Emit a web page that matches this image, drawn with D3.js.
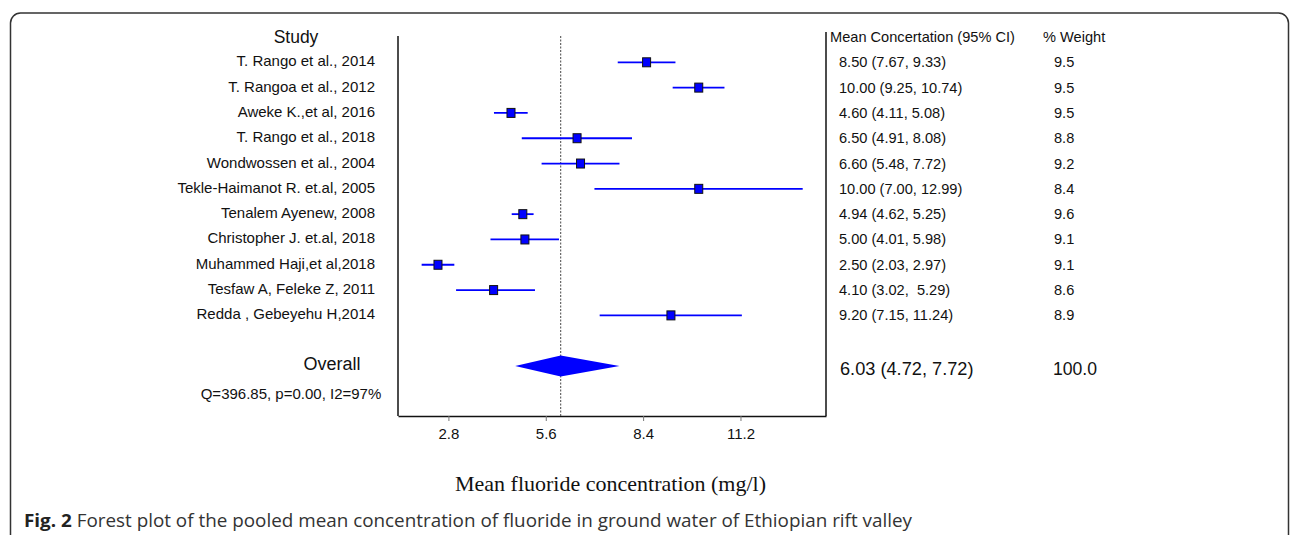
<!DOCTYPE html>
<html>
<head>
<meta charset="utf-8">
<script src="https://cdn.jsdelivr.net/npm/d3@7"></script>
<style>
  html, body { margin: 0; padding: 0; background: #fff; }
  #chart { width: 1290px; height: 535px; }
</style>
</head>
<body>
<div id="chart"></div>
<script>
// studies, top to bottom
const studies = [
  "T. Rango et al., 2014",
  "T. Rangoa et al., 2012",
  "Aweke K.,et al, 2016",
  "T. Rango et al., 2018",
  "Wondwossen et al., 2004",
  "Tekle-Haimanot R. et.al, 2005",
  "Tenalem Ayenew, 2008",
  "Christopher J. et.al, 2018",
  "Muhammed Haji,et al,2018",
  "Tesfaw A, Feleke Z, 2011",
  "Redda , Gebeyehu H,2014"
];
const means = [8.50, 10.00, 4.60, 6.50, 6.60, 10.00, 4.94, 5.00, 2.50, 4.10, 9.20];
const lower = [7.67, 9.25, 4.11, 4.91, 5.48, 7.00, 4.62, 4.01, 2.03, 3.02, 7.15];
const upper = [9.33, 10.74, 5.08, 8.08, 7.72, 12.99, 5.25, 5.98, 2.97, 5.29, 11.24];
const ciLabels = [
  "8.50 (7.67, 9.33)",
  "10.00 (9.25, 10.74)",
  "4.60 (4.11, 5.08)",
  "6.50 (4.91, 8.08)",
  "6.60 (5.48, 7.72)",
  "10.00 (7.00, 12.99)",
  "4.94 (4.62, 5.25)",
  "5.00 (4.01, 5.98)",
  "2.50 (2.03, 2.97)",
  "4.10 (3.02,  5.29)",
  "9.20 (7.15, 11.24)"
];
const weights = ["9.5", "9.5", "9.5", "8.8", "9.2", "8.4", "9.6", "9.1", "9.1", "8.6", "8.9"];

// pooled estimate
const pooled = [6.03, 4.72, 7.72]; // mean, lower, upper
const pooledLabel = "6.03 (4.72, 7.72)";
const pooledWeight = "100.0";
const heterogeneity = "Q=396.85, p=0.00, I2=97%";

const tickValues = [2.8, 5.6, 8.4, 11.2];
const xDomain = [1.35, 13.66];

const sans = "'Liberation Sans', Arial, sans-serif";
const azul = "#0000ff";
const fs = 15;

const width = 1290, height = 535;
const plot = { left: 398, right: 826, top: 36, bottom: 416 };

const svg = d3.select("#chart").append("svg")
  .attr("width", width)
  .attr("height", height)
  .style("display", "block");

// marco exterior
svg.append("rect")
  .attr("x", 10.5).attr("y", 13)
  .attr("width", 1278).attr("height", 600)
  .attr("rx", 10)
  .attr("fill", "none")
  .attr("stroke", "#333")
  .attr("stroke-width", 1.5);

const x = d3.scaleLinear().domain(xDomain).range([plot.left, plot.right]);
// filas: 0..10 estudios, 12 = overall
const y = d3.scaleLinear().domain([0, 12]).range([62.3, 366]);

// eje inferior
const axis = svg.append("g")
  .attr("transform", `translate(0,${plot.bottom})`)
  .call(d3.axisBottom(x).tickValues(tickValues).tickSize(5).tickSizeOuter(0).tickFormat(d3.format(".1f")));
axis.select(".domain").attr("stroke", "#111").attr("stroke-width", 1.5);
axis.selectAll(".tick line").attr("stroke", "#777");
axis.selectAll(".tick text")
  .attr("font-family", sans)
  .attr("font-size", fs)
  .attr("fill", "#111")
  .attr("dy", "1.0em");

// lados del recuadro
svg.append("line")
  .attr("x1", x(xDomain[0])).attr("x2", x(xDomain[0]))
  .attr("y1", plot.top).attr("y2", plot.bottom)
  .attr("stroke", "#111").attr("stroke-width", 1.5);
svg.append("line")
  .attr("x1", x(xDomain[1])).attr("x2", x(xDomain[1]))
  .attr("y1", plot.top - 4).attr("y2", plot.bottom)
  .attr("stroke", "#111").attr("stroke-width", 1.5);

// linea del efecto combinado
svg.append("line")
  .attr("x1", x(pooled[0])).attr("x2", x(pooled[0]))
  .attr("y1", plot.top).attr("y2", plot.bottom)
  .attr("stroke", "#444")
  .attr("stroke-width", 1)
  .attr("stroke-dasharray", "2,1.5");

const rows = studies.map((s, i) => ({
  study: s, mean: means[i], lo: lower[i], hi: upper[i],
  ci: ciLabels[i], w: weights[i], i
}));

// intervalos
svg.selectAll("line.ci")
  .data(rows)
  .join("line")
  .attr("class", "ci")
  .attr("x1", d => x(d.lo))
  .attr("x2", d => x(d.hi))
  .attr("y1", d => y(d.i))
  .attr("y2", d => y(d.i))
  .attr("stroke", azul)
  .attr("stroke-width", 1.8);

// cuadrados
svg.selectAll("rect.pt")
  .data(rows)
  .join("rect")
  .attr("class", "pt")
  .attr("x", d => x(d.mean) - 4)
  .attr("y", d => y(d.i) - 4.5)
  .attr("width", 8)
  .attr("height", 9)
  .attr("fill", azul)
  .attr("stroke", "#111")
  .attr("stroke-width", 1);

// rombo
const yd = y(12);
svg.append("path")
  .attr("d", `M${x(pooled[1])},${yd} L${x(pooled[0])},${yd - 10.5} L${x(pooled[2])},${yd} L${x(pooled[0])},${yd + 10.5} Z`)
  .attr("fill", azul);

// textos de la izquierda
svg.append("text")
  .attr("x", 296).attr("y", 37)
  .attr("text-anchor", "middle")
  .attr("dominant-baseline", "central")
  .attr("font-family", sans).attr("font-size", 17.5).attr("fill", "#111")
  .text("Study");

svg.selectAll("text.study")
  .data(rows)
  .join("text")
  .attr("class", "study")
  .attr("x", 375)
  .attr("y", d => y(d.i) - 1.5)
  .attr("text-anchor", "end")
  .attr("dominant-baseline", "central")
  .attr("font-family", sans).attr("font-size", fs).attr("fill", "#111")
  .text(d => d.study);

svg.append("text")
  .attr("x", 332).attr("y", 363.5)
  .attr("text-anchor", "middle")
  .attr("dominant-baseline", "central")
  .attr("font-family", sans).attr("font-size", 18).attr("fill", "#111")
  .text("Overall");

svg.append("text")
  .attr("x", 291).attr("y", 393)
  .attr("text-anchor", "middle")
  .attr("dominant-baseline", "central")
  .attr("font-family", sans).attr("font-size", fs).attr("fill", "#111")
  .text(heterogeneity);

// columnas de la derecha
svg.append("text")
  .attr("x", 830).attr("y", 37)
  .attr("dominant-baseline", "central")
  .attr("font-family", sans).attr("font-size", 14.6).attr("fill", "#111")
  .text("Mean Concertation (95% CI)");
svg.append("text")
  .attr("x", 1043).attr("y", 37)
  .attr("dominant-baseline", "central")
  .attr("font-family", sans).attr("font-size", 14.6).attr("fill", "#111")
  .text("% Weight");

svg.selectAll("text.ci")
  .data(rows)
  .join("text")
  .attr("class", "ci")
  .attr("x", 839)
  .attr("y", d => y(d.i))
  .attr("dominant-baseline", "central")
  .style("white-space", "pre")
  .attr("font-family", sans).attr("font-size", 14.6).attr("fill", "#111")
  .text(d => d.ci);

svg.selectAll("text.w")
  .data(rows)
  .join("text")
  .attr("class", "w")
  .attr("x", 1054)
  .attr("y", d => y(d.i))
  .attr("dominant-baseline", "central")
  .attr("font-family", sans).attr("font-size", 14.6).attr("fill", "#111")
  .text(d => d.w);

svg.append("text")
  .attr("x", 840).attr("y", 369)
  .attr("dominant-baseline", "central")
  .attr("font-family", sans).attr("font-size", 18.2).attr("fill", "#111")
  .text(pooledLabel);
svg.append("text")
  .attr("x", 1053).attr("y", 369)
  .attr("dominant-baseline", "central")
  .attr("font-family", sans).attr("font-size", 17.6).attr("fill", "#111")
  .text(pooledWeight);

// titulo del eje
svg.append("text")
  .attr("x", 455).attr("y", 491)
  .attr("font-family", "'Liberation Serif', 'Times New Roman', serif")
  .attr("font-size", 21)
  .attr("fill", "#111")
  .attr("textLength", 311)
  .attr("lengthAdjust", "spacingAndGlyphs")
  .text("Mean fluoride concentration (mg/l)");

// pie de figura
const cap = svg.append("text")
  .attr("x", 24).attr("y", 527)
  .attr("font-family", "'Open Sans', sans-serif")
  .attr("font-size", 17.5)
  .attr("fill", "#333")
  .attr("textLength", 888)
  .attr("lengthAdjust", "spacingAndGlyphs");
cap.append("tspan").attr("font-weight", "bold").attr("fill", "#222").text("Fig. 2");
cap.append("tspan").text(" Forest plot of the pooled mean concentration of fluoride in ground water of Ethiopian rift valley");
</script>
</body>
</html>
